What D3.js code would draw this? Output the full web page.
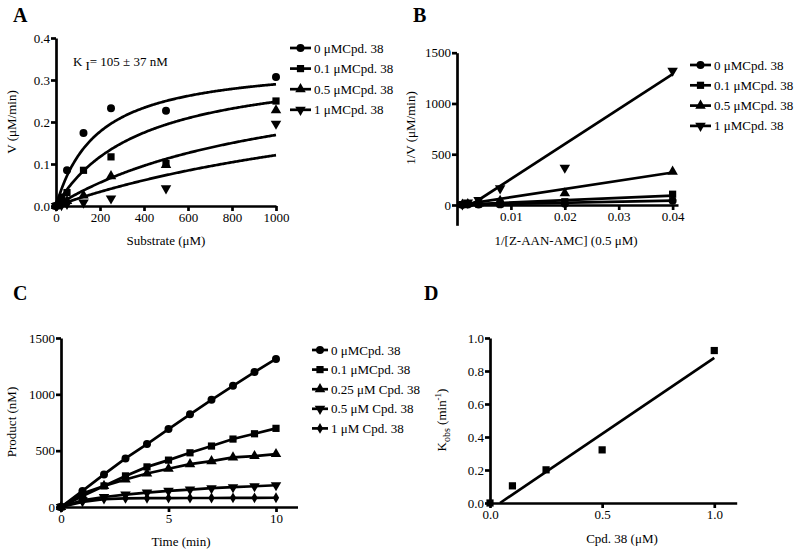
<!DOCTYPE html>
<html><head><meta charset="utf-8">
<script src="https://cdn.jsdelivr.net/npm/d3@7/dist/d3.min.js"></script>
<style>
body{margin:0;background:#fff;}
svg{font-family:"Liberation Serif","Times New Roman",serif;}
</style></head>
<body><svg id="c" width="800" height="551"></svg>
<script>
// ---------------- DATA ----------------
// Panel A
const substrateA = [0, 25, 50, 125, 250, 500, 1000];
const vA_0   = [0, 0.020, 0.085, 0.174, 0.233, 0.227, 0.307];
const vA_01  = [0, 0.010, 0.032, 0.085, 0.117, 0.101, 0.250];
const vA_05  = [0, 0.005, 0.012, 0.025, 0.071, 0.098, 0.228];
const vA_1   = [0, 0.002, 0.005, 0.008, 0.018, 0.042, 0.196];
const labelsA = ["0 μMCpd. 38", "0.1 μMCpd. 38", "0.5 μMCpd. 38", "1 μMCpd. 38"];
const fitVmaxA = [0.345, 0.345, 0.345, 0.345];
const fitKmA = [190, 390, 1040, 1850];
const ticksAx = [0, 200, 400, 600, 800, 1000];
const ticksAy = [0, 0.1, 0.2, 0.3, 0.4];

// Panel B
const invSubstrateB = [0.001, 0.002, 0.004, 0.008, 0.02, 0.04];
const invVB_0  = [3, 4, 4, 6, 12, 42];
const invVB_01 = [4, 12, 9, 12, 32, 106];
const invVB_05 = [4, 10, 14, 40, 115, 328];
const invVB_1  = [5, 23, 50, 164, 367, 1323];
const labelsB = ["0 μMCpd. 38", "0.1 μMCpd. 38", "0.5 μMCpd. 38", "1 μMCpd. 38"];
const fitSlopeB = [1050, 2250, 8100, 34400];
const fitInterceptB = [1, 2, -4, -88];
const ticksBx = [0.01, 0.02, 0.03, 0.04];
const ticksBy = [0, 500, 1000, 1500];

// Panel C
const timeC = [0, 1, 2, 3, 4, 5, 6, 7, 8, 9, 10];
const prodC_0   = [0, 143, 289, 431, 559, 692, 823, 951, 1076, 1198, 1314];
const prodC_01  = [0, 119, 187, 276, 356, 416, 481, 541, 603, 650, 698];
const prodC_025 = [0, 98, 187, 244, 297, 339, 380, 407, 440, 452, 470];
const prodC_05  = [0, 60, 89, 110, 128, 143, 155, 167, 176, 184, 193];
const prodC_1   = [0, 45, 70, 76, 78, 79, 80, 80, 81, 81, 82];
const labelsC = ["0 μMCpd. 38", "0.1 μMCpd. 38", "0.25 μM Cpd. 38", "0.5 μM Cpd. 38", "1 μM Cpd. 38"];
const ticksCx = [0, 5, 10];
const ticksCy = [0, 500, 1000, 1500];

// Panel D
const cpdD = [0, 0.1, 0.25, 0.5, 1.0];
const kobsD = [0, 0.104, 0.201, 0.322, 0.924];
const fitSlopeD = 0.92;
const fitInterceptD = -0.041;
const ticksDx = [0, 0.5, 1.0];
const ticksDy = [0, 0.2, 0.4, 0.6, 0.8, 1.0];

// ---------------- DRAWING ----------------
const svg = d3.select("#c");
const FS = 13;
const SW = 2.7;
const symCircle = d3.symbol().type(d3.symbolCircle).size(50);
const symSquare = d3.symbol().type(d3.symbolSquare).size(52);
const symTri = d3.symbol().type(d3.symbolTriangle).size(48);
const symDiamond = d3.symbol().type(d3.symbolDiamond).size(34);
const markers = [
  {p: symCircle(), rot: 0},
  {p: symSquare(), rot: 0},
  {p: symTri(), rot: 0},
  {p: symTri(), rot: 180},
  {p: symDiamond(), rot: 0}
];

function drawAxes(g, x, y, xTicks, yTicks, xFmt, yFmt, xAxisY, yAxisX) {
  const ax = g.append("g").attr("transform", `translate(0,${xAxisY})`)
    .call(d3.axisBottom(x).tickValues(xTicks).tickFormat(xFmt).tickSize(5).tickSizeOuter(0).tickPadding(2));
  const ay = g.append("g").attr("transform", `translate(${yAxisX},0)`)
    .call(d3.axisLeft(y).tickValues(yTicks).tickFormat(yFmt).tickSize(5).tickSizeOuter(0).tickPadding(1));
  [ax, ay].forEach(a => {
    a.attr("font-family", null);
    a.selectAll("path,line").attr("stroke", "#000").attr("stroke-width", SW);
    a.selectAll("text").attr("font-size", FS).attr("fill", "#000");
  });
}

function drawMarkers(g, xs, ys, x, y, mi) {
  g.append("g").selectAll("path").data(xs.map((d, i) => [d, ys[i]])).join("path")
    .attr("d", markers[mi].p)
    .attr("transform", d => `translate(${x(d[0])},${y(d[1])}) rotate(${markers[mi].rot})`)
    .attr("fill", "#000");
}

function drawLegend(g, labels, lx, ly, dy, lineLen) {
  labels.forEach((lab, i) => {
    const row = g.append("g").attr("transform", `translate(${lx},${ly + i * dy})`);
    row.append("line").attr("x1", 0).attr("x2", lineLen).attr("y1", 0).attr("y2", 0)
      .attr("stroke", "#000").attr("stroke-width", SW);
    row.append("path").attr("d", markers[i].p)
      .attr("transform", `translate(${lineLen / 2},0) rotate(${markers[i].rot})`).attr("fill", "#000");
    row.append("text").attr("x", lineLen + 3).attr("y", 4.5).attr("font-size", FS).text(lab);
  });
}

function title(t, x, y) {
  svg.append("text").attr("x", x).attr("y", y).attr("font-size", 20).attr("font-weight", "bold").text(t);
}

function yLabel(g, txt, x, y) {
  return g.append("text").attr("transform", `translate(${x},${y}) rotate(-90)`)
    .attr("text-anchor", "middle").attr("font-size", FS).text(txt);
}
function xLabel(g, txt, x, y) {
  return g.append("text").attr("x", x).attr("y", y).attr("text-anchor", "middle").attr("font-size", FS).text(txt);
}

// ----- Panel A -----
{
  const g = svg.append("g");
  const x = d3.scaleLinear().domain([0, 1000]).range([56, 276]);
  const y = d3.scaleLinear().domain([0, 0.4]).range([206, 38]);
  drawAxes(g, x, y, ticksAx, ticksAy, d3.format("d"), d3.format(".1f"), 206, 56);
  const series = [vA_0, vA_01, vA_05, vA_1];
  const line = d3.line().x(d => x(d[0])).y(d => y(d[1]));
  series.forEach((s, i) => {
    const pts = d3.range(0, 1001, 5).map(S => [S, fitVmaxA[i] * S / (fitKmA[i] + S)]);
    g.append("path").attr("d", line(pts)).attr("fill", "none").attr("stroke", "#000").attr("stroke-width", SW);
  });
  series.forEach((s, i) => drawMarkers(g, substrateA, s, x, y, i));
  drawLegend(g, labelsA, 290, 48, 20.6, 21);
  yLabel(g, "V (μM/min)", 16, 122);
  xLabel(g, "Substrate (μM)", 166, 245);
  const k = g.append("text").attr("x", 73).attr("y", 66).attr("font-size", FS);
  k.append("tspan").text("K");
  k.append("tspan").attr("dx", 3).attr("dy", 4).text("I");
  k.append("tspan").attr("dy", -4).text("= 105 ± 37 nM");
  title("A", 13, 22);
}

// ----- Panel B -----
{
  const g = svg.append("g");
  const x = d3.scaleLinear().domain([0, 0.041]).range([457, 678]);
  const y = d3.scaleLinear().domain([-200, 1500]).range([225.3, 52.7]);
  drawAxes(g, x, y, ticksBx, ticksBy, d3.format(".2f"), d3.format("d"), y(0), x(0));
  const series = [invVB_0, invVB_01, invVB_05, invVB_1];
  series.forEach((s, i) => {
    const m = fitSlopeB[i], b = fitInterceptB[i];
    const x0 = Math.max(invSubstrateB[0], -b / m);
    const x1 = invSubstrateB[invSubstrateB.length - 1];
    g.append("line").attr("x1", x(x0)).attr("y1", y(m * x0 + b)).attr("x2", x(x1)).attr("y2", y(m * x1 + b))
      .attr("stroke", "#000").attr("stroke-width", SW);
  });
  series.forEach((s, i) => drawMarkers(g, invSubstrateB, s, x, y, i));
  drawLegend(g, labelsB, 690, 65, 20.3, 21);
  yLabel(g, "1/V (μM/min)", 415, 128);
  xLabel(g, "1/[Z-AAN-AMC] (0.5 μM)", 566, 245);
  title("B", 413, 22);
}

// ----- Panel C -----
{
  const g = svg.append("g");
  const x = d3.scaleLinear().domain([0, 11]).range([61, 297.5]);
  const y = d3.scaleLinear().domain([0, 1500]).range([507, 338]);
  drawAxes(g, x, y, ticksCx, ticksCy, d3.format("d"), d3.format("d"), 507, 61);
  const series = [prodC_0, prodC_01, prodC_025, prodC_05, prodC_1];
  const line = d3.line().x(d => x(d[0])).y(d => y(d[1]));
  series.forEach((s, i) => {
    g.append("path").attr("d", line(timeC.map((t, j) => [t, s[j]])))
      .attr("fill", "none").attr("stroke", "#000").attr("stroke-width", SW);
  });
  series.forEach((s, i) => drawMarkers(g, timeC, s, x, y, i));
  drawLegend(g, labelsC, 312, 350, 19.6, 16);
  yLabel(g, "Product (nM)", 16, 422);
  xLabel(g, "Time (min)", 181, 546);
  title("C", 13, 300);
}

// ----- Panel D -----
{
  const g = svg.append("g");
  const x = d3.scaleLinear().domain([0, 1.1]).range([490, 736.7]);
  const y = d3.scaleLinear().domain([0, 1.0]).range([503, 338]);
  drawAxes(g, x, y, ticksDx, ticksDy, d3.format(".1f"), d3.format(".1f"), 503, 490);
  const x0 = -fitInterceptD / fitSlopeD, x1 = cpdD[cpdD.length - 1];
  g.append("line").attr("x1", x(x0)).attr("y1", y(fitSlopeD * x0 + fitInterceptD))
    .attr("x2", x(x1)).attr("y2", y(fitSlopeD * x1 + fitInterceptD))
    .attr("stroke", "#000").attr("stroke-width", SW);
  drawMarkers(g, cpdD, kobsD, x, y, 1);
  const yl = g.append("text").attr("transform", "translate(446,420) rotate(-90)")
    .attr("text-anchor", "middle").attr("font-size", FS);
  yl.append("tspan").text("K");
  yl.append("tspan").attr("dy", 4).attr("font-size", 10).text("obs");
  yl.append("tspan").attr("dy", -4).text(" (min");
  yl.append("tspan").attr("dy", -5).attr("font-size", 9).text("-1");
  yl.append("tspan").attr("dy", 5).text(")");
  xLabel(g, "Cpd. 38 (μM)", 622, 543);
  title("D", 424, 300);
}
</script></body></html>
